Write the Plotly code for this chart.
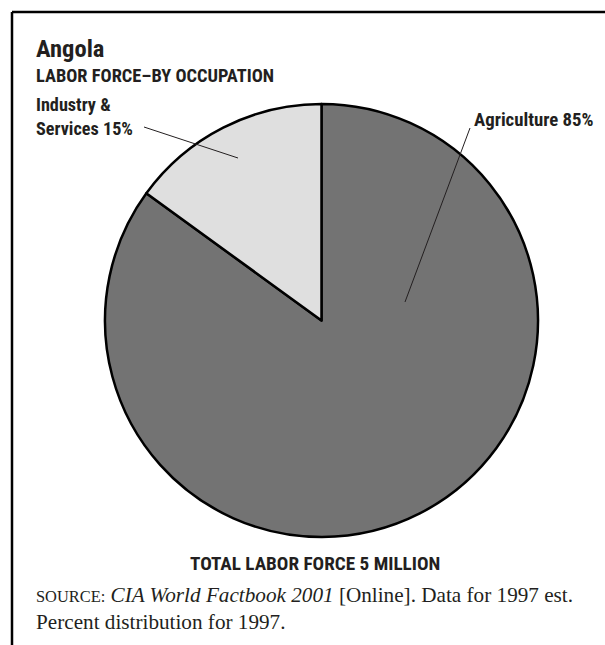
import plotly.graph_objects as go

labels = ["Agriculture", "Industry & Services"]
values = [85, 15]
colors = ["#737373", "#dfdfdf"]

W, H = 605, 645
def px(x): return x / W
def py(y): return 1 - y / H

COND = "'Roboto Condensed', Roboto, 'DejaVu Sans Condensed', sans-serif"
SERIF = "'Liberation Serif', 'Times New Roman', serif"
TXT = "#231f20"

fig = go.Figure(go.Pie(
    labels=labels, values=values, sort=False, direction="clockwise", rotation=0,
    marker=dict(colors=colors, line=dict(color="black", width=2.5)),
    textinfo="none", hoverinfo="skip", showlegend=False,
    domain=dict(x=[px(105), px(538)], y=[py(537), py(104)]),
))

ann = [
    dict(text="<b>Angola</b>", x=px(34), y=py(49), size=24.5, font=COND),
    dict(text="<b>LABOR FORCE–BY OCCUPATION</b>", x=px(34), y=py(76), size=18.4, font=COND),
    dict(text="<b>Industry &amp;<br>Services 15%</b>", x=px(34), y=py(116), size=18.2, font=COND),
    dict(text="<b>Agriculture 85%</b>", x=px(472), y=py(120), size=18.8, font=COND),
    dict(text="<b>TOTAL LABOR FORCE 5 MILLION</b>", x=px(315), y=py(563), size=19.2, font=COND, xanchor="center"),
    dict(text="<span style='font-size:16.4px'>SOURCE:</span> <i>CIA World Factbook 2001</i> [Online]. Data for 1997 est.",
         x=px(34), y=py(595), size=21.2, font=SERIF),
    dict(text="Percent distribution for 1997.", x=px(34), y=py(622), size=21.2, font=SERIF),
]
annotations = []
for a in ann:
    annotations.append(dict(
        text=a["text"], x=a["x"], y=a["y"], xref="paper", yref="paper",
        xanchor=a.get("xanchor", "left"), yanchor="middle", showarrow=False, align="left",
        font=dict(family=a["font"], size=a["size"], color=TXT),
    ))

shapes = [
    # frame
    dict(type="line", xref="paper", yref="paper", x0=px(12), y0=py(12), x1=px(610), y1=py(12),
         line=dict(color="black", width=2.5)),
    dict(type="line", xref="paper", yref="paper", x0=px(12), y0=py(12), x1=px(12), y1=py(650),
         line=dict(color="black", width=2.5)),
    # leader lines
    dict(type="line", xref="paper", yref="paper", x0=px(144), y0=py(127), x1=px(238), y1=py(158),
         line=dict(color=TXT, width=1)),
    dict(type="line", xref="paper", yref="paper", x0=px(470), y0=py(128), x1=px(405), y1=py(302),
         line=dict(color=TXT, width=1)),
]

fig.update_layout(
    width=W, height=H, margin=dict(l=0, r=0, t=0, b=0),
    paper_bgcolor="white", plot_bgcolor="white",
    annotations=annotations, shapes=shapes,
)
fig.write_html("out.html", config={"displayModeBar": False},
               post_script="document.body.style.margin='0';document.body.style.overflow='hidden';")
